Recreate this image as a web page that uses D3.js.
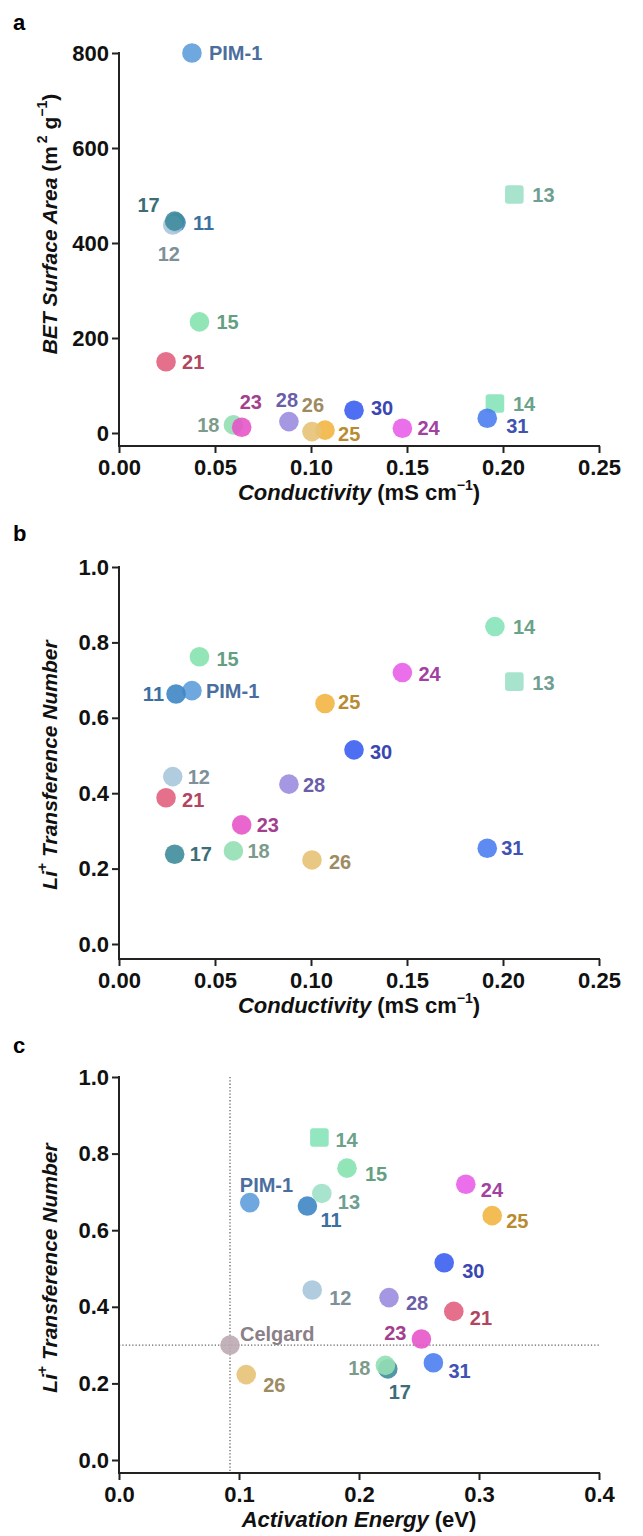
<!DOCTYPE html>
<html>
<head>
<meta charset="utf-8">
<script src="https://cdn.jsdelivr.net/npm/d3@7"></script>
<style>
  body { margin: 0; background: #fff; }
  text { font-family: "Liberation Sans", Arial, Helvetica, sans-serif; }
</style>
</head>
<body>
<script>
// sample names, in drawing order (later ones sit on top)
var ids = ["PIM-1", "11", "12", "13", "14", "15", "17", "18", "21", "23", "24", "25", "26", "28", "30", "31"];

// values
var conductivity = [0.038, 0.0297, 0.028, 0.2059, 0.1958, 0.0419, 0.029, 0.0596, 0.0245, 0.0639, 0.1476, 0.1073, 0.1005, 0.0885, 0.1224, 0.1918]; // mS cm-1
var betArea = [800, 443, 438, 502, 62, 234, 446, 17, 150, 12, 10, 6, 3, 24, 48, 31]; // m2 g-1
var transference = [0.672, 0.663, 0.444, 0.696, 0.842, 0.762, 0.238, 0.247, 0.388, 0.316, 0.720, 0.638, 0.223, 0.424, 0.515, 0.254];
var activationEnergy = [0.109, 0.157, 0.161, 0.169, 0.167, 0.190, 0.224, 0.222, 0.279, 0.252, 0.289, 0.311, 0.106, 0.225, 0.271, 0.262]; // eV

// Celgard reference (panel c only)
var celgardEa = 0.0925,
    celgardT = 0.30;

// tick values
var condTicks = [0, 0.05, 0.10, 0.15, 0.20, 0.25];
var betTicks = [0, 200, 400, 600, 800];
var tTicks = [0, 0.2, 0.4, 0.6, 0.8, 1.0];
var eaTicks = [0, 0.1, 0.2, 0.3, 0.4];

// marker fill / label colour per sample
var colors = {
  "PIM-1": ["#5f9ddb", "#4b6e9e"],
  "11": ["#3f86c4", "#3b6f9f"],
  "12": ["#a9c7da", "#7e9099"],
  "13": ["#9fe0c8", "#6f9e92"],
  "14": ["#86e3b9", "#6aa28a"],
  "15": ["#86e2ae", "#63a083"],
  "17": ["#3f8c9c", "#3d6d76"],
  "18": ["#93dfb4", "#7c9b8b"],
  "21": ["#e2617f", "#b0465f"],
  "23": ["#e655c8", "#a43f8e"],
  "24": ["#e95ee9", "#a2419f"],
  "25": ["#f3b542", "#b98b31"],
  "26": ["#e6c274", "#9d8b62"],
  "28": ["#9c8ce0", "#6a5ea8"],
  "30": ["#3b5ff0", "#3a46b2"],
  "31": ["#4c7ef0", "#4052b2"],
  "Celgard": ["#bcaab3", "#8b8088"]
};

// label placement: [dx, dy, anchor] from marker centre
var labelsA = {
  "PIM-1": [17, 0, "start"], "11": [17, 0, "start"], "17": [-15, -16, "end"], "12": [-4, 29, "middle"],
  "13": [18, 0, "start"], "15": [17, 0, "start"], "21": [16, 0, "start"], "18": [-14, 0, "end"],
  "23": [-2, -26, "start"], "28": [-2, -22, "middle"], "26": [1, -27, "middle"], "25": [13, 4, "start"],
  "30": [17, -2, "start"], "24": [15, 0, "start"], "14": [18, 0, "start"], "31": [19, 8, "start"]
};
var labelsB = {
  "PIM-1": [14, 0, "start"], "11": [-12, 0, "end"], "12": [15, 0, "start"], "13": [18, 1, "start"],
  "14": [18, 0, "start"], "15": [17, 2, "start"], "17": [15, 0, "start"], "18": [14, 0, "start"],
  "21": [16, 2, "start"], "23": [15, 0, "start"], "24": [16, 1, "start"], "25": [13, -2, "start"],
  "26": [17, 2, "start"], "28": [14, 1, "start"], "30": [16, 2, "start"], "31": [14, 0, "start"]
};
var labelsC = {
  "PIM-1": [-10, -18, "start"], "11": [13, 14, "start"], "12": [17, 8, "start"], "13": [16, 8, "start"],
  "14": [16, 2, "start"], "15": [18, 6, "start"], "17": [12, 23, "middle"], "18": [-15, 2, "end"],
  "21": [16, 6, "start"], "23": [-15, -6, "end"], "24": [15, 6, "start"], "25": [14, 5, "start"],
  "26": [17, 10, "start"], "28": [17, 5, "start"], "30": [18, 8, "start"], "31": [15, 8, "start"],
  "Celgard": [10, -11, "start"]
};

var width = 643,
    height = 1536,
    left = 119, right = 599, // plot frame in x
    r = 9.8; // marker radius

var svg = d3.select('body')
  .append('svg')
  .attr('width', width)
  .attr('height', height);

// build rows for each panel from the arrays
function rows(xs, ys) {
  return ids.map(function(id, i) { return { id: id, x: xs[i], y: ys[i] }; });
}

var panels = [
  {
    letter: 'a', letterY: 30,
    x: d3.scaleLinear().domain([0, 0.25]).range([left, right]),
    y: d3.scaleLinear().domain([0, 800]).range([433, 53]),
    bottom: 446, xTicks: condTicks, yTicks: betTicks, xFmt: d3.format('.2f'), yFmt: d3.format('d'),
    points: rows(conductivity, betArea), labels: labelsA, squares: ['13', '14'],
    xTitle: 'cond', yTitle: 'bet', yTitleY: 224
  },
  {
    letter: 'b', letterY: 541,
    x: d3.scaleLinear().domain([0, 0.25]).range([left, right]),
    y: d3.scaleLinear().domain([0, 1]).range([944, 567]),
    bottom: 959, xTicks: condTicks, yTicks: tTicks, xFmt: d3.format('.2f'), yFmt: d3.format('.1f'),
    points: rows(conductivity, transference), labels: labelsB, squares: ['13'],
    xTitle: 'cond', yTitle: 'li', yTitleY: 765
  },
  {
    letter: 'c', letterY: 1053,
    x: d3.scaleLinear().domain([0, 0.4]).range([left, right]),
    y: d3.scaleLinear().domain([0, 1]).range([1460, 1077]),
    bottom: 1473, xTicks: eaTicks, yTicks: tTicks, xFmt: d3.format('.1f'), yFmt: d3.format('.1f'),
    points: rows(activationEnergy, transference), labels: labelsC, squares: ['14'],
    xTitle: 'ea', yTitle: 'li', yTitleY: 1268, celgard: true
  }
];

panels.forEach(drawPanel);

function drawPanel(p) {
  var g = svg.append('g');

  // panel letter
  g.append('text')
    .attr('x', 13).attr('y', p.letterY)
    .attr('font-size', 22).attr('font-weight', 'bold')
    .text(p.letter);

  // dotted Celgard guide lines
  if (p.celgard) {
    g.append('line')
      .attr('x1', p.x(celgardEa)).attr('x2', p.x(celgardEa))
      .attr('y1', p.y(1)).attr('y2', p.bottom)
      .attr('stroke', '#666').attr('stroke-width', 1.3).attr('stroke-dasharray', '1.3,2');
    g.append('line')
      .attr('x1', left).attr('x2', right)
      .attr('y1', p.y(celgardT)).attr('y2', p.y(celgardT))
      .attr('stroke', '#666').attr('stroke-width', 1.3).attr('stroke-dasharray', '1.3,2');
  }

  // x axis
  var xa = g.append('g')
    .attr('transform', 'translate(0,' + p.bottom + ')')
    .call(d3.axisBottom(p.x).tickValues(p.xTicks).tickFormat(p.xFmt).tickSize(7).tickPadding(6).tickSizeOuter(0));
  // y axis
  var ya = g.append('g')
    .attr('transform', 'translate(' + left + ',0)')
    .call(d3.axisLeft(p.y).tickValues(p.yTicks).tickFormat(p.yFmt).tickSize(7).tickPadding(3).tickSizeOuter(0));

  [xa, ya].forEach(function(a) {
    a.select('.domain').remove();
    a.selectAll('line').attr('stroke', '#222').attr('stroke-width', 2);
    a.selectAll('text')
      .attr('font-family', '"Liberation Sans", Arial, Helvetica, sans-serif')
      .attr('font-size', 22).attr('font-weight', 'bold').attr('fill', '#111');
  });

  // axis frame (y axis runs down to the offset x axis)
  g.append('line')
    .attr('x1', left).attr('x2', left).attr('y1', p.y.range()[1] - 1).attr('y2', p.bottom + 1)
    .attr('stroke', '#222').attr('stroke-width', 2);
  g.append('line')
    .attr('x1', left).attr('x2', right + 1).attr('y1', p.bottom).attr('y2', p.bottom)
    .attr('stroke', '#222').attr('stroke-width', 2);

  // points
  var pts = p.points.slice();
  if (p.celgard) pts.unshift({ id: 'Celgard', x: celgardEa, y: celgardT });

  var marks = g.append('g').selectAll('g')
    .data(pts)
    .enter().append('g')
    .attr('transform', function(d) { return 'translate(' + p.x(d.x) + ',' + p.y(d.y) + ')'; });

  marks.filter(function(d) { return p.squares.indexOf(d.id) < 0; })
    .append('circle')
    .attr('r', r)
    .attr('fill', function(d) { return colors[d.id][0]; })
    .attr('fill-opacity', 0.9);

  marks.filter(function(d) { return p.squares.indexOf(d.id) >= 0; })
    .append('rect')
    .attr('x', -r + 0.5).attr('y', -r + 0.5)
    .attr('width', 2 * r - 1).attr('height', 2 * r - 1)
    .attr('rx', 3)
    .attr('fill', function(d) { return colors[d.id][0]; })
    .attr('fill-opacity', 0.9);

  // sample labels
  g.append('g').selectAll('text')
    .data(pts)
    .enter().append('text')
    .attr('x', function(d) { return p.x(d.x) + p.labels[d.id][0]; })
    .attr('y', function(d) { return p.y(d.y) + p.labels[d.id][1]; })
    .attr('dy', '0.36em')
    .attr('text-anchor', function(d) { return p.labels[d.id][2]; })
    .attr('font-size', 20).attr('font-weight', 'bold')
    .attr('fill', function(d) { return colors[d.id][1]; })
    .text(function(d) { return d.id; });

  // x title
  var xt = g.append('text')
    .attr('x', (left + right) / 2).attr('y', p.bottom + 54)
    .attr('text-anchor', 'middle')
    .attr('font-size', 22).attr('font-weight', 'bold').attr('fill', '#111');
  if (p.xTitle === 'cond') {
    xt.append('tspan').attr('font-style', 'italic').text('Conductivity');
    xt.append('tspan').text(' (mS cm');
    xt.append('tspan').attr('font-size', 14).attr('dy', -10).text('\u22121');
    xt.append('tspan').attr('dy', 10).text(')');
  } else {
    xt.append('tspan').attr('font-style', 'italic').text('Activation Energy');
    xt.append('tspan').text(' (eV)');
  }

  // y title
  var yt = g.append('text')
    .attr('transform', 'translate(57,' + p.yTitleY + ') rotate(-90)')
    .attr('text-anchor', 'middle')
    .attr('font-size', 21).attr('font-weight', 'bold').attr('fill', '#111');
  if (p.yTitle === 'bet') {
    yt.append('tspan').attr('font-style', 'italic').text('BET Surface Area');
    yt.append('tspan').text(' (m');
    yt.append('tspan').attr('font-size', 14).attr('dy', -10).attr('dx', 3).text('2');
    yt.append('tspan').attr('dy', 10).text(' g');
    yt.append('tspan').attr('font-size', 14).attr('dy', -10).text('\u22121');
    yt.append('tspan').attr('dy', 10).text(')');
  } else {
    yt.append('tspan').attr('font-style', 'italic').text('Li');
    yt.append('tspan').attr('font-size', 14).attr('dy', -10).text('+');
    yt.append('tspan').attr('dy', 10).attr('font-style', 'italic').text(' Transference Number');
  }
}
</script>
</body>
</html>
